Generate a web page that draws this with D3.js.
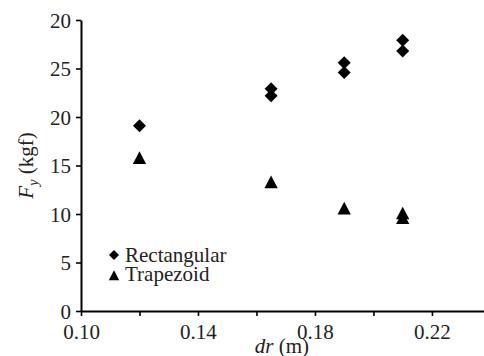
<!DOCTYPE html>
<html><head><meta charset="utf-8">
<script src="https://cdn.jsdelivr.net/npm/d3@7"></script>
<style>body{margin:0;background:#fff}svg{display:block}</style>
</head><body>
<script>
const rectX = [0.12, 0.165, 0.165, 0.19, 0.19, 0.21, 0.21];
const rectY = [19.1, 22.9, 22.2, 25.6, 24.6, 27.9, 26.8];
const trapX = [0.12, 0.165, 0.19, 0.21, 0.21];
const trapY = [15.7, 13.2, 10.5, 10.0, 9.5];
const xTicks = [0.10, 0.12, 0.14, 0.16, 0.18, 0.20, 0.22];
const xTickLabels = ["0.10", "", "0.14", "", "0.18", "", "0.22"];
const yTicks = [0, 5, 10, 15, 20, 25, 30];
const yTickLabels = ["0", "5", "10", "15", "20", "25", "20"];
const seriesNames = ["Rectangular", "Trapezoid"];

const W = 484, H = 356;
const FS = 21;
const FONT = '"Liberation Serif", "Times New Roman", serif';
const svg = d3.select("body").append("svg").attr("width", W).attr("height", H)
  .attr("font-family", "Liberation Serif").attr("font-size", FS);
const x = d3.scaleLinear().domain([0.10, 0.2378]).range([81, 484]);
const y = d3.scaleLinear().domain([0, 30]).range([311, 20]);

const xAxis = svg.append("g").attr("transform", "translate(0,311)")
  .call(d3.axisBottom(x).tickValues(xTicks).tickSize(5).tickSizeOuter(0)
    .tickFormat((d, i) => xTickLabels[i]));
const yAxis = svg.append("g").attr("transform", "translate(81,0)")
  .call(d3.axisLeft(y).tickValues(yTicks).tickSize(5).tickSizeOuter(0)
    .tickFormat((d, i) => yTickLabels[i]));
[xAxis, yAxis].forEach(g => {
  g.attr("font-family", "Liberation Serif").attr("font-size", FS);
  g.selectAll("path.domain").attr("stroke", "#000").attr("stroke-width", 2);
  g.selectAll(".tick line").attr("stroke", "#000").attr("stroke-width", 1.6);
  g.selectAll("text").attr("fill", "#222");
});
xAxis.selectAll("text").attr("dy", "0.95em");
yAxis.selectAll("text").attr("x", -10).attr("dy", "0.34em");

const diamond = s => `M0,${-s}L${s},0L0,${s}L${-s},0Z`;
const tri = s => `M0,${-s*1.05}L${s*0.95},${s*0.75}L${-s*0.95},${s*0.75}Z`;

svg.append("g").selectAll("path").data(rectX).join("path")
  .attr("d", diamond(6.5))
  .attr("transform", (d, i) => `translate(${x(d)},${y(rectY[i])})`)
  .attr("fill", "#000");
svg.append("g").selectAll("path").data(trapX).join("path")
  .attr("d", tri(7))
  .attr("transform", (d, i) => `translate(${x(d)},${y(trapY[i])})`)
  .attr("fill", "#000");

// legend
const lg = svg.append("g").attr("fill", "#222");
lg.append("path").attr("d", diamond(5)).attr("transform", "translate(114,255)").attr("fill", "#000");
lg.append("text").attr("x", 125).attr("y", 262).text(seriesNames[0]);
lg.append("path").attr("d", tri(5.5)).attr("transform", "translate(114,276)").attr("fill", "#000");
lg.append("text").attr("x", 125).attr("y", 281).text(seriesNames[1]);

// axis titles
const xt = svg.append("text").attr("x", 282).attr("y", 353).attr("text-anchor", "middle").attr("fill", "#222");
xt.append("tspan").attr("font-style", "italic").text("dr");
xt.append("tspan").text(" (m)");

const yt = svg.append("text").attr("transform", "translate(33,165.5) rotate(-90)").attr("text-anchor", "middle").attr("fill", "#222");
yt.append("tspan").attr("font-style", "italic").text("F");
yt.append("tspan").attr("font-style", "italic").attr("font-size", 14).attr("dy", 5).text("y");
yt.append("tspan").attr("dy", -5).text(" (kgf)");

svg.selectAll("text").style("font-family", FONT, "important");
</script>
</body></html>
